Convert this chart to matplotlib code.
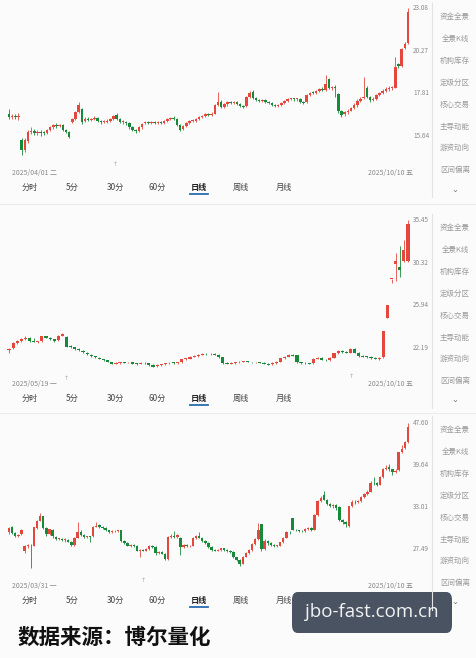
import numpy as np
import matplotlib
matplotlib.use('Agg')
import matplotlib.pyplot as plt
from matplotlib.patches import FancyBboxPatch

plt.rcParams['font.family'] = ['Noto Sans CJK SC', 'DejaVu Sans']

# ---- data: (open, close, high, low) per trading day ----
p1_ohlc = [
    (16.70, 16.55, 17.00, 16.45), (16.55, 16.60, 16.70, 16.45), (16.60, 16.55, 16.72, 16.45),
    (16.55, 16.58, 16.75, 16.40), (15.45, 15.00, 15.55, 14.75), (15.00, 15.45, 15.55, 14.90),
    (15.40, 15.85, 15.95, 15.30), (15.85, 15.90, 16.05, 15.75), (15.90, 15.80, 16.00, 15.70),
    (15.80, 15.85, 15.95, 15.70), (15.85, 15.80, 15.95, 15.65), (15.80, 15.78, 15.90, 15.68),
    (15.78, 15.92, 16.00, 15.72), (15.92, 16.05, 16.10, 15.88), (16.05, 16.18, 16.22, 16.00),
    (16.18, 16.10, 16.25, 16.02), (16.10, 16.15, 16.22, 16.05), (16.15, 15.95, 16.20, 15.90),
    (15.95, 15.85, 16.00, 15.80), (15.85, 15.60, 15.90, 15.55), (16.30, 16.45, 16.50, 16.25),
    (16.45, 16.80, 16.85, 16.40), (16.80, 17.20, 17.35, 16.75), (17.00, 16.30, 17.05, 16.20),
    (16.35, 16.45, 16.55, 16.30), (16.45, 16.40, 16.55, 16.35), (16.40, 16.45, 16.52, 16.35),
    (16.45, 16.50, 16.60, 16.40), (16.50, 16.35, 16.55, 16.30), (16.35, 16.30, 16.40, 16.22),
    (16.30, 16.32, 16.40, 16.25), (16.32, 16.38, 16.45, 16.28), (16.38, 16.45, 16.50, 16.32),
    (16.45, 16.60, 16.65, 16.40), (16.65, 16.45, 16.75, 16.40), (16.45, 16.30, 16.50, 16.25),
    (16.30, 16.32, 16.40, 16.22), (16.32, 16.25, 16.38, 16.18), (16.25, 16.05, 16.30, 16.00),
    (16.05, 15.95, 16.10, 15.90), (15.95, 15.88, 16.00, 15.80), (15.88, 16.05, 16.10, 15.85),
    (16.05, 16.20, 16.25, 16.00), (16.25, 16.28, 16.35, 16.20), (16.28, 16.27, 16.35, 16.20),
    (16.27, 16.30, 16.38, 16.22), (16.30, 16.28, 16.36, 16.22), (16.28, 16.30, 16.36, 16.22),
    (16.30, 16.25, 16.35, 16.20), (16.25, 16.35, 16.40, 16.20), (16.35, 16.45, 16.50, 16.30),
    (16.45, 16.50, 16.58, 16.40), (16.50, 16.45, 16.60, 16.40), (16.45, 16.15, 16.50, 16.10),
    (16.15, 15.95, 16.20, 15.90), (15.98, 16.10, 16.15, 15.92), (16.10, 16.25, 16.30, 16.05),
    (16.25, 16.35, 16.40, 16.20), (16.35, 16.38, 16.45, 16.30), (16.38, 16.45, 16.50, 16.32),
    (16.45, 16.55, 16.60, 16.40), (16.55, 16.62, 16.68, 16.50), (16.62, 16.70, 16.75, 16.58),
    (16.72, 16.65, 16.78, 16.60), (16.65, 16.72, 16.80, 16.60), (16.72, 17.20, 17.25, 16.70),
    (17.20, 17.35, 17.90, 17.15), (17.35, 17.10, 17.45, 17.05), (17.10, 17.22, 17.30, 17.05),
    (17.22, 17.35, 17.40, 17.15), (17.35, 17.30, 17.42, 17.25), (17.30, 17.32, 17.40, 17.22),
    (17.32, 17.25, 17.38, 17.18), (17.25, 17.12, 17.30, 17.08), (17.12, 17.08, 17.18, 17.02),
    (17.15, 17.60, 17.65, 17.10), (17.60, 17.85, 17.95, 17.55), (17.90, 17.55, 17.98, 17.50),
    (17.55, 17.45, 17.62, 17.40), (17.45, 17.40, 17.52, 17.32), (17.40, 17.45, 17.52, 17.35),
    (17.45, 17.35, 17.52, 17.30), (17.35, 17.30, 17.40, 17.25), (17.30, 17.20, 17.35, 17.15),
    (17.20, 17.15, 17.25, 17.10), (17.15, 17.20, 17.25, 17.10), (17.20, 17.30, 17.35, 17.15),
    (17.30, 17.40, 17.45, 17.25), (17.40, 17.50, 17.55, 17.35), (17.50, 17.52, 17.58, 17.45),
    (17.52, 17.48, 17.58, 17.42), (17.48, 17.52, 17.58, 17.42), (17.52, 17.35, 17.56, 17.30),
    (17.35, 17.30, 17.40, 17.25), (17.35, 17.70, 17.75, 17.30), (17.70, 17.85, 17.90, 17.65),
    (17.85, 17.80, 17.92, 17.75), (17.80, 17.95, 18.00, 17.75), (17.95, 18.05, 18.10, 17.90),
    (18.05, 18.00, 18.15, 17.95), (18.00, 18.30, 18.80, 17.95), (18.60, 18.10, 18.65, 18.05),
    (18.10, 18.15, 18.20, 18.00), (18.15, 18.10, 18.25, 17.60), (17.75, 16.85, 17.80, 16.75),
    (16.85, 16.65, 16.95, 16.55), (16.70, 16.80, 16.90, 16.60), (16.80, 16.90, 17.00, 16.70),
    (16.90, 17.05, 17.10, 16.85), (17.05, 17.20, 17.30, 17.00), (17.20, 17.40, 17.50, 17.10),
    (17.40, 17.50, 17.60, 17.35), (17.55, 17.60, 18.70, 17.50), (18.10, 17.60, 18.20, 17.55),
    (17.60, 17.45, 17.65, 17.35), (17.45, 17.50, 17.60, 17.40), (17.50, 17.70, 17.75, 17.45),
    (17.70, 17.80, 17.90, 17.65), (17.80, 17.95, 18.05, 17.75), (17.95, 18.05, 18.15, 17.90),
    (18.05, 18.10, 18.20, 17.95), (18.10, 18.12, 18.20, 18.00), (18.12, 19.30, 19.90, 18.08),
    (19.45, 19.35, 19.55, 19.25), (19.35, 20.40, 20.45, 19.30), (20.45, 20.70, 20.80, 20.40),
    (20.75, 22.80, 23.08, 20.70),
]

p2_ohlc = [
    (22.00, 22.10, 22.15, 21.80), (22.15, 22.60, 22.65, 22.10), (22.60, 22.75, 22.85, 22.55),
    (22.75, 22.90, 23.00, 22.70), (22.90, 23.00, 23.15, 22.85), (23.05, 22.75, 23.10, 22.70),
    (22.75, 22.70, 23.05, 22.65), (22.70, 22.72, 22.80, 22.62), (22.75, 23.15, 23.20, 22.70),
    (23.15, 23.05, 23.20, 23.00), (23.05, 22.90, 23.10, 22.85), (22.90, 22.80, 22.95, 22.70),
    (22.85, 23.20, 23.25, 22.80), (23.20, 23.35, 23.45, 23.15), (23.10, 22.30, 23.15, 22.25),
    (22.30, 22.25, 22.40, 22.20), (22.25, 22.10, 22.30, 22.05), (22.10, 22.00, 22.15, 21.95),
    (21.95, 21.85, 22.00, 21.80), (21.80, 21.70, 21.90, 21.65), (21.65, 21.55, 21.70, 21.45),
    (21.50, 21.45, 21.55, 21.40), (21.40, 21.35, 21.48, 21.30), (21.30, 21.20, 21.35, 21.15),
    (21.20, 21.10, 21.25, 21.05), (21.05, 20.95, 21.10, 20.90), (20.95, 21.00, 21.05, 20.90),
    (21.00, 21.05, 21.10, 20.95), (21.05, 21.02, 21.10, 20.98), (21.05, 21.05, 21.12, 20.98),
    (21.05, 20.95, 21.10, 20.90), (20.95, 20.92, 21.00, 20.88), (20.95, 21.00, 21.05, 20.90),
    (21.00, 20.98, 21.05, 20.95), (20.98, 20.85, 21.00, 20.80), (20.85, 20.72, 20.90, 20.68),
    (20.75, 20.85, 20.90, 20.70), (20.85, 20.90, 20.95, 20.80), (20.90, 20.98, 21.02, 20.85),
    (20.98, 21.02, 21.08, 20.95), (21.02, 21.00, 21.08, 20.95), (21.00, 21.05, 21.10, 20.95),
    (21.05, 21.30, 21.35, 21.00), (21.30, 21.35, 21.40, 21.25), (21.35, 21.48, 21.52, 21.30),
    (21.48, 21.55, 21.60, 21.45), (21.55, 21.65, 21.70, 21.50), (21.65, 21.70, 21.75, 21.62),
    (21.70, 21.68, 21.75, 21.62), (21.68, 21.70, 21.76, 21.62), (21.70, 21.65, 21.75, 21.60),
    (21.65, 21.45, 21.70, 21.40), (21.45, 21.00, 21.48, 20.95), (21.00, 20.95, 21.05, 20.90),
    (20.95, 21.00, 21.05, 20.90), (21.00, 21.05, 21.10, 20.95), (21.05, 21.10, 21.15, 21.00),
    (21.10, 21.12, 21.18, 21.05), (21.12, 21.08, 21.18, 21.05), (21.08, 21.05, 21.12, 21.00),
    (21.05, 21.07, 21.12, 21.00), (21.07, 21.02, 21.12, 20.98), (21.02, 20.95, 21.06, 20.92),
    (20.95, 20.88, 21.00, 20.82), (20.90, 21.00, 21.05, 20.85), (21.00, 21.10, 21.15, 20.95),
    (21.10, 21.38, 21.42, 21.05), (21.40, 21.50, 21.55, 21.35), (21.50, 21.62, 21.68, 21.45),
    (21.62, 21.58, 21.68, 21.52), (21.60, 21.05, 21.65, 21.00), (21.05, 21.00, 21.10, 20.95),
    (21.00, 20.98, 21.05, 20.92), (20.98, 20.95, 21.02, 20.90), (21.00, 21.35, 21.40, 20.95),
    (21.35, 21.40, 21.48, 21.30), (21.40, 21.25, 21.45, 21.20), (21.25, 21.20, 21.30, 21.15),
    (21.22, 21.42, 21.48, 21.18), (21.42, 21.75, 21.80, 21.40), (21.75, 21.95, 22.05, 21.70),
    (21.95, 21.85, 22.00, 21.80), (21.85, 21.80, 21.92, 21.75), (21.80, 22.10, 22.15, 21.75),
    (22.10, 21.80, 22.20, 21.75), (21.80, 21.55, 21.85, 21.50), (21.55, 21.50, 21.60, 21.45),
    (21.50, 21.48, 21.55, 21.42), (21.50, 21.38, 21.55, 21.30), (21.40, 21.35, 21.45, 21.30),
    (21.35, 21.40, 21.45, 21.25), (21.45, 23.60, 23.62, 21.42), (24.80, 25.96, 25.98, 24.75),
    (28.56, 28.56, 28.56, 28.20), (30.20, 30.50, 31.40, 28.40), (29.80, 29.55, 32.20, 28.80),
    (30.50, 31.80, 33.00, 30.40), (30.50, 34.90, 35.45, 30.40),
]

p3_ohlc = [
    (29.60, 30.10, 30.30, 29.40), (30.20, 29.50, 30.40, 29.30), (29.50, 29.10, 29.60, 29.00),
    (29.10, 29.15, 29.30, 28.95), (29.30, 29.90, 30.05, 29.20), (27.20, 27.80, 28.00, 27.00),
    (27.80, 27.95, 28.10, 27.60), (27.90, 27.80, 28.10, 25.30), (27.90, 30.20, 30.30, 27.80),
    (30.10, 31.10, 31.20, 30.00), (31.10, 31.80, 32.10, 31.00), (31.70, 30.10, 31.80, 30.00),
    (30.10, 29.30, 30.20, 29.10), (29.40, 29.95, 30.00, 29.20), (29.90, 29.10, 30.00, 28.90),
    (29.00, 28.70, 29.10, 28.60), (28.70, 28.75, 28.90, 28.55), (28.75, 28.60, 28.85, 28.45),
    (28.60, 28.65, 28.80, 28.40), (28.65, 28.40, 28.75, 28.30), (28.40, 28.00, 28.50, 27.85),
    (28.00, 28.90, 29.00, 27.90), (28.90, 29.60, 30.90, 28.80), (29.60, 29.20, 29.80, 29.10),
    (29.20, 28.95, 29.30, 28.85), (28.95, 29.05, 29.15, 28.85), (29.05, 29.00, 29.15, 28.30),
    (29.05, 30.30, 30.40, 28.95), (30.30, 30.45, 30.90, 30.20), (30.50, 30.30, 30.70, 30.15),
    (30.30, 30.10, 30.40, 29.95), (30.10, 29.80, 30.20, 29.70), (29.80, 29.55, 29.90, 29.45),
    (29.55, 29.70, 29.80, 29.45), (29.70, 29.75, 29.85, 29.60), (29.75, 29.80, 29.90, 29.60),
    (29.80, 28.50, 29.85, 28.40), (28.50, 28.20, 28.60, 28.05), (28.20, 27.90, 28.30, 27.80),
    (27.90, 28.00, 28.10, 27.75), (28.00, 27.85, 28.10, 27.70), (27.85, 27.30, 27.95, 27.20),
    (27.30, 27.35, 27.50, 26.60), (27.35, 27.30, 27.45, 27.20), (27.30, 27.50, 27.60, 27.20),
    (27.50, 27.90, 28.00, 27.40), (27.90, 27.75, 28.00, 27.60), (27.70, 27.00, 27.80, 26.80),
    (27.00, 27.10, 27.20, 26.90), (27.10, 26.95, 27.20, 26.85), (26.95, 26.30, 27.05, 26.20),
    (26.30, 29.00, 29.10, 26.20), (29.00, 29.10, 29.30, 28.85), (29.10, 29.00, 29.70, 28.90),
    (29.00, 29.25, 29.35, 28.90), (28.90, 27.70, 29.00, 26.80), (27.70, 27.95, 28.05, 27.60),
    (27.95, 27.80, 28.05, 27.70), (27.80, 27.85, 27.95, 27.70), (27.90, 28.85, 29.00, 27.85),
    (28.85, 29.05, 29.20, 28.75), (29.05, 28.90, 29.60, 28.80), (28.90, 28.50, 29.00, 28.40),
    (28.50, 28.20, 28.60, 28.10), (28.20, 27.70, 28.30, 27.60), (27.70, 27.40, 27.80, 27.30),
    (27.40, 27.30, 27.50, 27.20), (27.30, 27.35, 27.45, 27.20), (27.35, 27.55, 27.65, 27.30),
    (27.55, 27.40, 27.65, 27.30), (27.40, 27.30, 27.50, 27.15), (27.30, 27.10, 27.40, 27.00),
    (27.10, 26.50, 27.20, 26.40), (26.50, 26.20, 26.60, 26.10), (26.20, 25.80, 26.30, 25.50),
    (25.80, 26.60, 26.70, 25.70), (26.60, 27.00, 27.10, 26.50), (27.00, 27.40, 27.50, 26.90),
    (27.40, 28.10, 28.20, 27.30), (28.10, 28.70, 28.80, 28.00), (28.70, 29.90, 30.80, 28.60),
    (30.60, 27.50, 30.70, 27.30), (27.50, 28.50, 28.70, 27.40), (28.50, 28.20, 28.60, 28.00),
    (28.20, 28.00, 28.30, 27.90), (28.00, 27.85, 28.10, 27.70), (27.85, 27.90, 28.00, 27.70),
    (27.90, 28.30, 28.40, 27.80), (28.30, 28.90, 29.00, 28.20), (28.90, 29.60, 29.70, 28.80),
    (29.60, 29.55, 29.75, 29.40), (31.40, 29.90, 31.50, 29.80), (29.90, 29.80, 30.00, 29.70),
    (29.80, 29.75, 29.90, 29.65), (29.75, 29.70, 29.85, 29.60), (29.70, 30.00, 30.10, 29.60),
    (30.00, 30.10, 30.20, 29.90), (30.10, 29.85, 30.20, 29.75), (29.85, 31.90, 32.00, 29.80),
    (31.90, 33.90, 34.00, 31.80), (33.90, 34.30, 34.60, 33.70), (34.80, 34.10, 35.40, 34.00),
    (34.10, 33.50, 34.20, 33.30), (33.50, 33.20, 33.60, 33.00), (33.20, 33.30, 33.45, 32.90),
    (33.30, 32.80, 33.40, 32.60), (33.00, 31.20, 33.10, 31.00), (31.20, 30.90, 31.30, 30.70),
    (30.90, 30.70, 31.00, 30.30), (30.40, 33.10, 33.20, 30.30), (33.10, 33.80, 34.00, 33.00),
    (33.80, 33.70, 34.00, 33.50), (33.70, 33.90, 34.10, 33.60), (33.90, 34.50, 34.70, 33.80),
    (34.50, 34.90, 35.10, 34.40), (34.90, 35.30, 35.50, 34.80), (35.30, 36.70, 36.90, 35.20),
    (36.70, 36.60, 37.60, 36.40), (36.60, 36.40, 36.80, 36.20), (36.40, 37.60, 37.80, 36.30),
    (37.60, 39.00, 39.20, 37.50), (39.00, 39.20, 39.60, 38.80), (39.30, 38.90, 39.80, 38.70),
    (38.90, 38.50, 39.00, 38.00), (38.50, 38.70, 38.90, 38.30), (38.80, 41.90, 42.00, 38.70),
    (41.90, 42.50, 43.30, 41.70), (42.60, 43.80, 44.00, 42.50), (43.80, 46.80, 47.60, 43.70),
]

p1_ticks = [23.08, 20.27, 17.81, 15.64]
p2_ticks = [35.45, 30.32, 25.94, 22.19]
p3_ticks = [47.60, 39.64, 33.01, 27.49]

p1_dates = ['2025/04/01 二', '2025/10/10 五']
p2_dates = ['2025/05/19 一', '2025/10/10 五']
p3_dates = ['2025/03/31 一', '2025/10/10 五']

tabs = ['分时', '5分', '30分', '60分', '日线', '周线', '月线']
menu = ['资金全景', '全景K线', '机构库存', '定级分区', '核心交易', '主导动能', '游资动向', '区间偏离']

source_text = '数据来源：博尔量化'
watermark = 'jbo-fast.com.cn'

RED = '#e4483d'
GREEN = '#178a3a'
GREY = '#9a9a9a'

W, H = 477, 658
fig = plt.figure(figsize=(W / 100, H / 100), dpi=100)
fig.patch.set_facecolor('#fbfbfc')


def fx(x):
    return x / W


def fy(y):
    return 1 - y / H


def draw_panel(rows, ticks, tick_px, top, bottom):
    ax = fig.add_axes([0, fy(bottom), fx(432), (bottom - top) / H])
    ax.set_facecolor('none')
    o, c, hi, lo = [np.array(v) for v in zip(*rows)]
    n = len(rows)
    idx = np.arange(n)
    step = (408 - 9) / (n - 1)
    ax.set_xlim(-9 / step, (432 - 9) / step)

    # log price axis placed so the printed levels land where the app shows them
    p_top, p_bot = ticks[0], ticks[-1]
    y_top, y_bot = tick_px
    k = (np.log(p_top) - np.log(p_bot)) / (y_bot - y_top)
    ax.set_yscale('log')
    ax.set_ylim(np.exp(np.log(p_bot) - (bottom - y_bot) * k),
                np.exp(np.log(p_top) + (y_top - top) * k))

    col = np.where(c >= o, RED, GREEN)
    ax.vlines(idx, lo, hi, colors=col, lw=0.6)
    body_lo = np.minimum(o, c)
    body_h = np.maximum(np.abs(c - o), body_lo * 0.003)
    ax.bar(idx, body_h, bottom=body_lo, width=0.76, color=col, lw=0)

    for t in ticks:
        ax.text(421 / 432, t, f'{t:.2f}', transform=ax.get_yaxis_transform(),
                ha='center', va='center', fontsize=4.6, color='#8a8a8a')
    ax.axis('off')
    return ax


def draw_chrome(base, dates, marks):
    # date labels
    fig.text(fx(12), fy(base + 173), dates[0], fontsize=5, color='#8a8a8a', va='center')
    fig.text(fx(413), fy(base + 173), dates[1], fontsize=5, color='#8a8a8a',
             va='center', ha='right')
    for mx, my in marks:
        fig.text(fx(mx), fy(base + my), '↑', fontsize=4.5, color='#aaaaaa',
                 ha='center', va='center', family='DejaVu Sans')
    # period tabs
    tab_x = [30, 72, 115, 157, 199, 241, 284]
    for name, x in zip(tabs, tab_x):
        bold = name == '日线'
        fig.text(fx(x), fy(base + 187), name, fontsize=5.9, ha='center', va='center',
                 color='#222222' if bold else '#444444',
                 fontweight='bold' if bold else 'normal')
    fig.add_artist(plt.Line2D([fx(190), fx(208)], [fy(base + 194), fy(base + 194)],
                              color='#2a6bb0', lw=1.3))
    # right-side menu
    for j, name in enumerate(menu):
        fig.text(fx(455), fy(base + 17 + j * 21.9), name, fontsize=5.4, color=GREY,
                 ha='center', va='center')
    fig.text(fx(455), fy(base + 189), '⌄', fontsize=6, color='#777777',
             ha='center', va='center', family='DejaVu Sans')
    fig.add_artist(plt.Line2D([fx(432.5), fx(432.5)], [fy(base + 3), fy(base + 197)],
                              color='#e3e3e3', lw=0.8))


draw_panel(p1_ohlc, p1_ticks, (8, 136), 2, 162)
draw_panel(p2_ohlc, p2_ticks, (220, 348), 206, 378)
draw_panel(p3_ohlc, p3_ticks, (423, 549), 416, 578)

draw_chrome(0, p1_dates, [(115, 165)])
draw_chrome(211, p2_dates, [(66, 167), (351, 166)])
draw_chrome(413, p3_dates, [(143, 167)])

for ysep in (204, 413):
    fig.add_artist(plt.Line2D([0, 1], [fy(ysep), fy(ysep)], color='#ececec', lw=0.8))

fig.text(fx(18), fy(637), source_text, fontsize=15.5, fontweight='bold',
         color='#111111', va='center')

box = FancyBboxPatch((fx(292), fy(633)), fx(452) - fx(292), fy(592) - fy(633),
                     boxstyle='round,pad=0,rounding_size=0.012',
                     transform=fig.transFigure, facecolor='#4a5361', edgecolor='none')
fig.add_artist(box)
fig.text(fx(372), fy(612), watermark, fontsize=13.5, color='#f2f2f2',
         ha='center', va='center', family=['Open Sans', 'DejaVu Sans'])

fig.savefig('out.png', dpi=100, facecolor=fig.get_facecolor())
